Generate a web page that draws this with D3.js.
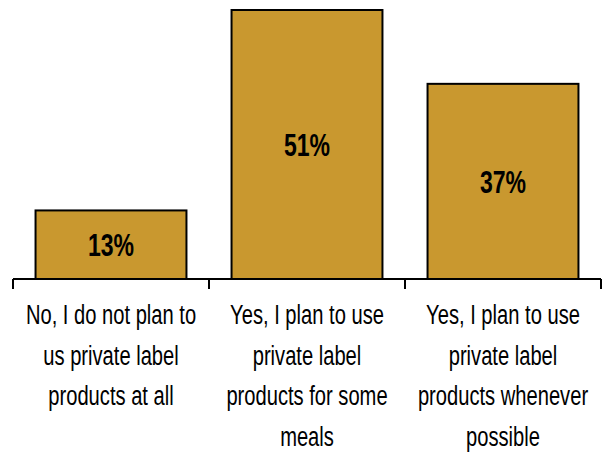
<!DOCTYPE html>
<html>
<head>
<meta charset="utf-8">
<script src="https://cdn.jsdelivr.net/npm/d3@7"></script>
<style>
  html, body { margin: 0; padding: 0; background: #fff; }
  svg { display: block; }
</style>
</head>
<body>
<svg id="chart" width="606" height="452"></svg>
<script>
// Survey answers and share of respondents (%)
const categories = [
  ["No, I do not plan to", "us private label", "products at all"],
  ["Yes, I plan to use", "private label", "products for some", "meals"],
  ["Yes, I plan to use", "private label", "products whenever", "possible"]
];
const values = [13, 51, 37];
const valueLabels = ["13%", "51%", "37%"];

const baseY = 279;
const svg = d3.select("#chart");

const x = d3.scaleBand()
  .domain(d3.range(values.length))
  .range([13, 601])
  .padding(0);

const y = d3.scaleLinear()
  .domain([0, 60])
  .range([baseY, baseY - 60 * (269 / 51)]);

const barFrac = 0.77;
const barW = x.bandwidth() * barFrac;
const gold = "#C9982F";

// Bars
svg.append("g").selectAll("rect")
  .data(values)
  .join("rect")
  .attr("x", (d, i) => x(i) + (x.bandwidth() - barW) / 2)
  .attr("y", d => y(d))
  .attr("width", barW)
  .attr("height", d => baseY - y(d))
  .attr("fill", gold)
  .attr("stroke", "#000")
  .attr("stroke-width", 2);

// Value labels inside bars (condensed bold)
svg.append("g").selectAll("text")
  .data(values)
  .join("text")
  .attr("transform", (d, i) => {
    const cx = x(i) + x.bandwidth() / 2;
    const cy = (y(d) + baseY) / 2 + 32 * 0.35;
    return `translate(${cx},${cy}) scale(0.72,1)`;
  })
  .attr("text-anchor", "middle")
  .attr("font-family", "Liberation Sans, Arial, sans-serif")
  .attr("font-weight", "bold")
  .attr("font-size", 32)
  .attr("fill", "#000")
  .text((d, i) => valueLabels[i]);

// Category axis
const axis = d3.axisBottom(x).tickSize(0).tickFormat("");
const gAxis = svg.append("g")
  .attr("transform", `translate(0,${baseY})`)
  .call(axis);
gAxis.select(".domain")
  .attr("d", `M${x.range()[0]},0H${x.range()[1]}`)
  .attr("stroke", "#000")
  .attr("stroke-width", 2);

// Tick marks at category boundaries
const bounds = d3.range(values.length).map(i => x(i)).concat([x.range()[1]]);
gAxis.selectAll("line.bound")
  .data(bounds)
  .join("line")
  .attr("class", "bound")
  .attr("x1", d => d).attr("x2", d => d)
  .attr("y1", 0).attr("y2", 10)
  .attr("stroke", "#000")
  .attr("stroke-width", 2);

// Wrapped category labels (condensed)
const lineH = 40.7;
const labelG = svg.append("g");
categories.forEach((lines, i) => {
  const cx = x(i) + x.bandwidth() / 2;
  lines.forEach((ln, j) => {
    labelG.append("text")
      .attr("transform", `translate(${cx},${324 + j * lineH}) scale(0.72,1)`)
      .attr("text-anchor", "middle")
      .attr("font-family", "Liberation Sans, Arial, sans-serif")
      .attr("font-size", 28)
      .attr("fill", "#000")
      .text(ln);
  });
});
</script>
</body>
</html>
